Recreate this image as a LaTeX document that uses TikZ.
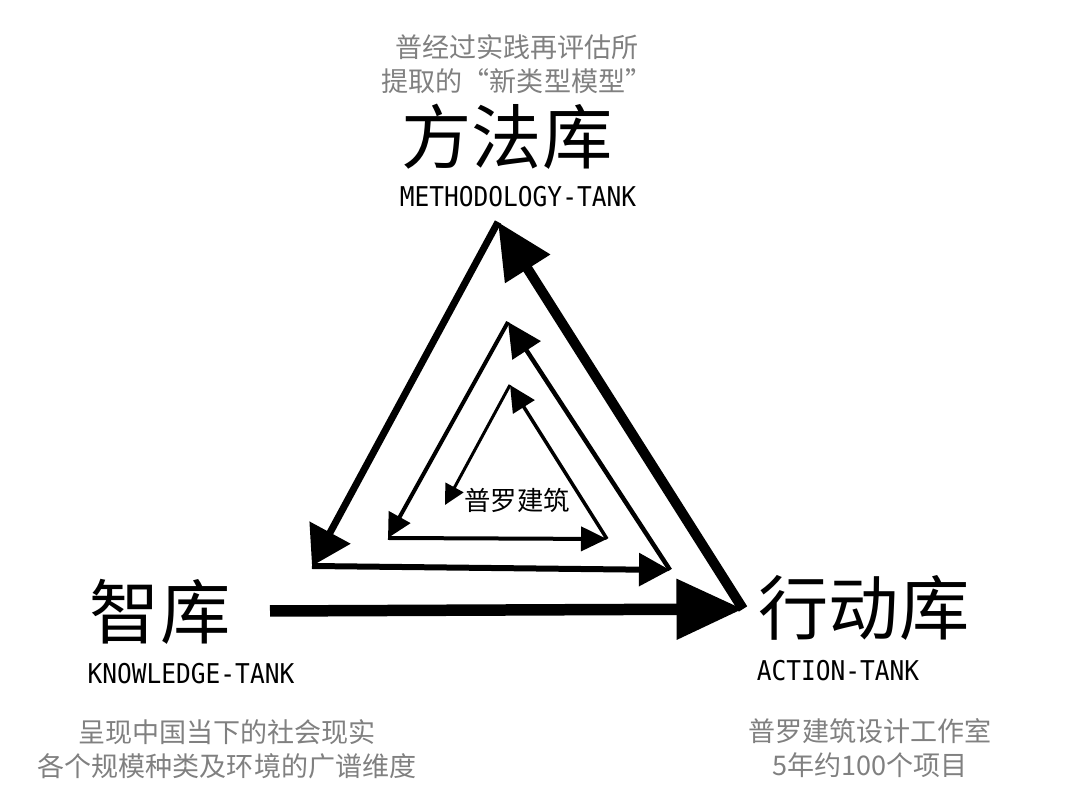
\documentclass[tikz,border=0pt]{standalone}
\usepackage{fontspec}
\setmainfont{Noto Sans CJK SC}
\newfontfamily\enfont[FakeStretch=0.9]{DejaVu Sans Mono}
\usepackage{tikz}
\usetikzlibrary{positioning,arrows.meta}
\definecolor{note}{RGB}{128,128,128}

\begin{document}
\begin{tikzpicture}[x=0.02cm, y=-0.02cm, node distance=3.2mm,
  every node/.style={inner sep=0pt},
  big/.style={font=\fontsize{40}{40}\selectfont},
  en/.style={font=\enfont\fontsize{15.5}{15.5}\selectfont},
  txt/.style={text=note, align=center, font=\fontsize{15.4}{19.4}\selectfont},
  ar/.style args={#1/#2/#3}{line width=#1, -{Triangle[length=#2, width=#3]}}]
\useasboundingbox (0,0) rectangle (1080,810);
% three tanks
\node[big] (fangfa) at (507,137) {方法库};
\node[en, below=of fangfa, xshift=0.22cm] (fangfaen) {METHODOLOGY-TANK};
\node[txt, above=2mm of fangfa, xshift=0.2cm] (fangfatxt) {普经过实践再评估所\\提取的“新类型模型”};
\node[big] (zhi) at (160,612) {智库};
\node[en, below=3.6mm of zhi, xshift=0.62cm] (zhien) {KNOWLEDGE-TANK};
\node[txt] (zhitxt) at (227,749) {呈现中国当下的社会现实\\各个规模种类及环境的广谱维度};
\node[big] (xing) at (864,608) {行动库};
\node[en, below=3.8mm of xing, xshift=-0.52cm] (xingen) {ACTION-TANK};
\node[txt] (xingtxt) at (870,748) {普罗建筑设计工作室\\5年约100个项目};
\node[font=\fontsize{15}{15}\selectfont] (pulo) at (517,500) {普罗建筑};
% spiral corners
\coordinate (p0) at (270,611);
\coordinate (p1) at (743,609);
\coordinate (p2) at (498,222);
\coordinate (p3) at (312,566);
\coordinate (p4) at (670,570);
\coordinate (p5) at (508,322);
\coordinate (p6) at (388,538);
\coordinate (p7) at (607,539);
\coordinate (p8) at (510,385);
\coordinate (p9) at (445,505);
\draw[ar={2.3mm/13.3mm/11.6mm}] (p0) -- (p1);
\draw[ar={2mm/11.1mm/10.2mm}] (p1) -- (p2);
\draw[ar={1.4mm/7.6mm/9mm}] (p2) -- (p3);
\draw[ar={1.2mm/6.2mm/6.4mm}] (p3) -- (p4);
\draw[ar={0.9mm/6.8mm/6.6mm}] (p4) -- (p5);
\draw[ar={0.8mm/4.8mm/4.8mm}] (p5) -- (p6);
\draw[ar={0.8mm/5.2mm/4.8mm}] (p6) -- (p7);
\draw[ar={0.7mm/5.2mm/5mm}] (p7) -- (p8);
\draw[ar={0.6mm/4mm/4mm}] (p8) -- (p9);
\end{tikzpicture}
\end{document}
